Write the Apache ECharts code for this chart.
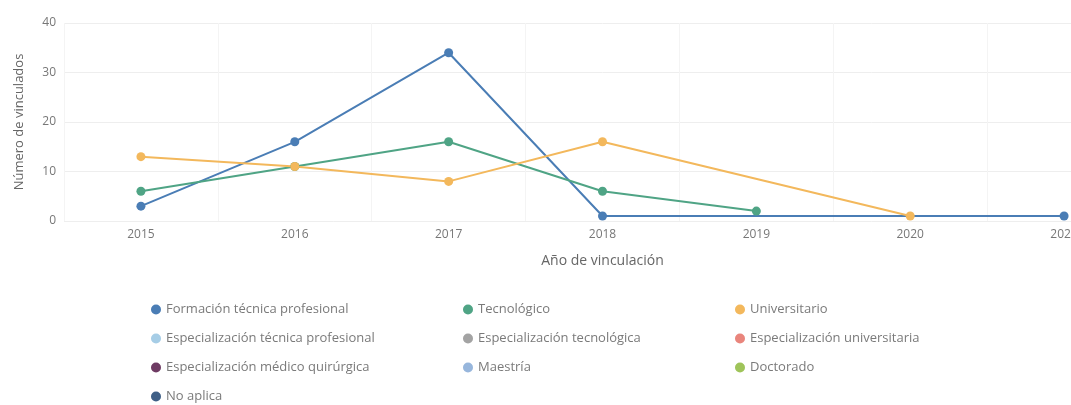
<!DOCTYPE html>
<html>
<head>
<meta charset="utf-8">
<script src="https://cdn.jsdelivr.net/npm/echarts@6/dist/echarts.min.js"></script>
<style>
html,body{margin:0;padding:0;background:#fff;overflow:hidden;width:1071px;height:405px;}
#chart{width:1150px;height:405px;}
</style>
</head>
<body>
<div id="chart"></div>
<script>
const years = ['2015','2016','2017','2018','2019','2020','2021'];
const yTicks = [0,10,20,30,40];

const seriesNames = [
  'Formación técnica profesional','Tecnológico','Universitario',
  'Especialización técnica profesional','Especialización tecnológica','Especialización universitaria',
  'Especialización médico quirúrgica','Maestría','Doctorado','No aplica'
];
const formacionTecnica = [3, 16, 34, 1, null, null, 1];
const tecnologico = [6, 11, 16, 6, 2, null, null];
const universitario = [13, 11, 8, 16, null, 1, null];
const espTecnica = [null, null, null, null, null, null, null];
const espTecnologica = [null, null, null, null, null, null, null];
const espUniversitaria = [null, null, null, null, null, null, null];
const espMedica = [null, null, null, null, null, null, null];
const maestria = [null, null, null, null, null, null, null];
const doctorado = [null, null, null, null, null, null, null];
const noAplica = [null, null, null, null, null, null, null];

const allData = [formacionTecnica, tecnologico, universitario, espTecnica, espTecnologica,
  espUniversitaria, espMedica, maestria, doctorado, noAplica];
const colors = ['#4a7db5','#4fa485','#f3b85c','#a6cde6','#a3a3a3','#e9857c','#6e3b63','#97b6dc','#9fc45a','#3f5f86'];

const chart = echarts.init(document.getElementById('chart'));
const legendText = {color:'#7a7a7a', fontSize:13, fontFamily:'Open Sans'};
const legendBase = {orient:'vertical', top:303, height:102, padding:0, itemWidth:10, itemHeight:10, itemGap:16, icon:'circle', textStyle:legendText};
chart.setOption({
  color: colors,
  animation: false,
  textStyle: {fontFamily: 'Open Sans'},
  grid: {left: 64, right: 9, top: 23, bottom: 184},
  legend: [
    Object.assign({left: 151, data: [seriesNames[0], seriesNames[3], seriesNames[6], seriesNames[9]]}, legendBase),
    Object.assign({left: 463, data: [seriesNames[1], seriesNames[4], seriesNames[7]]}, legendBase),
    Object.assign({left: 735, data: [seriesNames[2], seriesNames[5], seriesNames[8]]}, legendBase)
  ],
  xAxis: {
    type: 'category', data: years, boundaryGap: true,
    name: 'Año de vinculación', nameLocation: 'middle', nameGap: 33,
    nameTextStyle: {color: '#666', fontSize: 14},
    axisLine: {show: false}, axisTick: {show: false},
    axisLabel: {color: '#777', fontSize: 12, margin: 8},
    splitLine: {show: true, lineStyle: {color: '#f4f4f4'}}
  },
  yAxis: {
    type: 'value', min: yTicks[0], max: yTicks[yTicks.length-1], interval: 10,
    name: 'Número de vinculados', nameLocation: 'middle', nameGap: 38, nameRotate: 90,
    nameTextStyle: {color: '#666', fontSize: 13},
    axisLine: {show: false}, axisTick: {show: false},
    axisLabel: {color: '#777', fontSize: 12, margin: 8},
    splitLine: {lineStyle: {color: '#eeeeee'}}
  },
  series: seriesNames.map((n, i) => ({
    name: n, type: 'line', data: allData[i], connectNulls: true,
    symbol: 'circle', symbolSize: 9, lineStyle: {width: 2}
  }))
});
</script>
</body>
</html>
